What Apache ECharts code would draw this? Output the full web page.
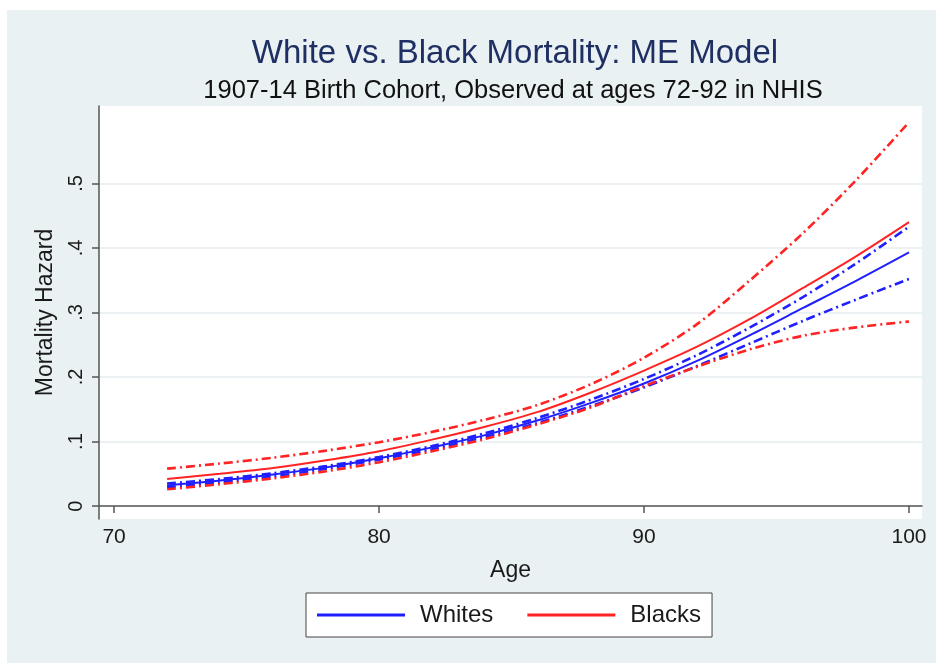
<!DOCTYPE html>
<html>
<head>
<meta charset="utf-8">
<script src="https://cdn.jsdelivr.net/npm/echarts@6/dist/echarts.min.js"></script>
<style>
  html, body { margin: 0; padding: 0; background: #ffffff; }
  #chart { position: absolute; left: 7px; top: 10px; width: 929px; height: 653px; }
</style>
</head>
<body>
<div id="chart"></div>
<script>
// Predicted mortality hazard by age, 1907-14 birth cohort
const ages = [72, 74, 76, 78, 80, 82, 84, 86, 88, 90, 92, 94, 96, 98, 100];

const whitesFit   = [0.032, 0.0395, 0.049, 0.060, 0.074, 0.091, 0.110, 0.133, 0.160, 0.190, 0.225, 0.265, 0.307, 0.349, 0.393];
const whitesUpper = [0.035, 0.042, 0.051, 0.062, 0.076, 0.093, 0.113, 0.137, 0.165, 0.197, 0.234, 0.277, 0.324, 0.376, 0.433];
const whitesLower = [0.029, 0.037, 0.046, 0.058, 0.072, 0.088, 0.107, 0.129, 0.155, 0.184, 0.217, 0.252, 0.287, 0.320, 0.352];

const blacksFit   = [0.042, 0.050, 0.059, 0.071, 0.085, 0.103, 0.123, 0.146, 0.176, 0.210, 0.247, 0.290, 0.338, 0.387, 0.440];
const blacksUpper = [0.058, 0.066, 0.075, 0.086, 0.099, 0.115, 0.134, 0.157, 0.189, 0.230, 0.282, 0.350, 0.423, 0.505, 0.595];
const blacksLower = [0.026, 0.034, 0.043, 0.054, 0.068, 0.085, 0.104, 0.127, 0.153, 0.186, 0.216, 0.243, 0.264, 0.277, 0.286];

const xTicks = [70, 80, 90, 100];
const yTicks = [0, 0.1, 0.2, 0.3, 0.4, 0.5];

const BLUE = '#1f1fff';
const RED = '#ff2323';
const FONT = '"Liberation Sans", Arial, sans-serif';
const dashDot = [9, 4, 2, 4];

function pairs(vals) { return ages.map((a, i) => [a, vals[i]]); }

function fitSeries(name, color, vals) {
  return {
    name: name, type: 'line', data: pairs(vals), smooth: 0.3,
    symbol: 'none', color: color,
    lineStyle: { color: color, width: 2 }, z: 3
  };
}
function ciSeries(name, color, vals) {
  return {
    name: name, type: 'line', data: pairs(vals), smooth: 0.3,
    symbol: 'none', color: color,
    lineStyle: { color: color, width: 2.6, type: dashDot }, z: 2
  };
}

const chart = echarts.init(document.getElementById('chart'));
chart.setOption({
  backgroundColor: '#eaf1f3',
  animation: false,
  textStyle: { fontFamily: FONT },
  title: [
    {
      text: 'White vs. Black Mortality: ME Model',
      left: 503, top: 22, textAlign: 'center',
      textStyle: { fontFamily: FONT, fontSize: 33, fontWeight: 'normal', color: '#1f2f63' }
    },
    {
      text: '1907-14 Birth Cohort, Observed at ages 72-92 in NHIS',
      left: 501, top: 63, textAlign: 'center',
      textStyle: { fontFamily: FONT, fontSize: 25.5, fontWeight: 'normal', color: '#111111' }
    }
  ],
  legend: {
    left: 299, top: 583,
    backgroundColor: '#ffffff',
    borderColor: '#444444', borderWidth: 1, borderRadius: 0,
    padding: [10, 11, 10, 11],
    itemWidth: 88, itemHeight: 3, itemGap: 34,
    icon: 'rect',
    data: ['Whites', 'Blacks'],
    textStyle: { fontFamily: FONT, fontSize: 24, color: '#1a1a1a', padding: [0, 0, 0, 10] }
  },
  grid: {
    left: 92, right: 14, top: 96, bottom: 144,
    show: true, backgroundColor: '#ffffff', borderWidth: 0
  },
  xAxis: {
    type: 'value', min: 69.43, max: 100.49,
    name: 'Age', nameLocation: 'middle', nameGap: 40,
    nameTextStyle: { fontFamily: FONT, fontSize: 23, color: '#1a1a1a' },
    axisLine: { show: true, lineStyle: { color: '#555555', width: 1.5 } },
    axisTick: { show: true, length: 7, customValues: xTicks, lineStyle: { color: '#555555', width: 1.5 } },
    axisLabel: { customValues: xTicks, margin: 8, fontFamily: FONT, fontSize: 21, color: '#1a1a1a' },
    splitLine: { show: false }
  },
  yAxis: {
    type: 'value', min: -0.02, max: 0.62,
    name: 'Mortality Hazard', nameLocation: 'middle', nameGap: 42,
    nameTextStyle: { fontFamily: FONT, fontSize: 23, color: '#1a1a1a' },
    axisLine: { show: true, lineStyle: { color: '#555555', width: 1.5 } },
    axisTick: { show: true, length: 7, customValues: yTicks, lineStyle: { color: '#555555', width: 1.5 } },
    axisLabel: {
      customValues: yTicks, rotate: 90, margin: 13,
      fontFamily: FONT, fontSize: 20, color: '#1a1a1a',
      formatter: v => (Math.abs(v) < 1e-9 ? '0' : '.' + Math.round(v * 10))
    },
    splitLine: { show: true, lineStyle: { color: '#e6eef1', width: 1.5 } }
  },
  series: [
    ciSeries('Whites upper', BLUE, whitesUpper),
    ciSeries('Whites lower', BLUE, whitesLower),
    ciSeries('Blacks upper', RED, blacksUpper),
    ciSeries('Blacks lower', RED, blacksLower),
    fitSeries('Whites', BLUE, whitesFit),
    fitSeries('Blacks', RED, blacksFit)
  ]
});
</script>
</body>
</html>
